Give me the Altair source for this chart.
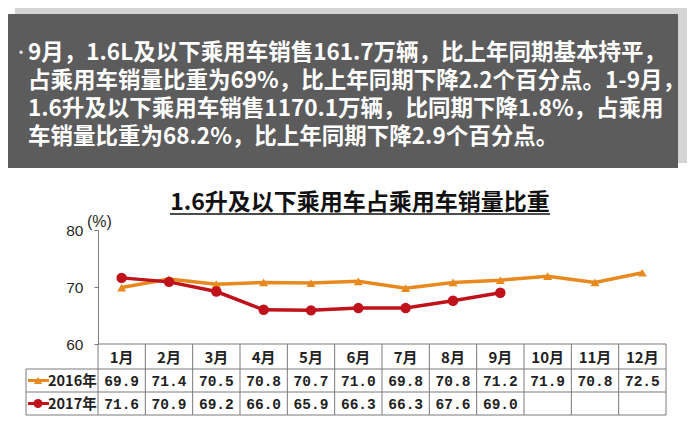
import altair as alt
import pandas as pd

# ---------------- data ----------------
months = ["1月", "2月", "3月", "4月", "5月", "6月", "7月", "8月", "9月", "10月", "11月", "12月"]
share_2016 = [69.9, 71.4, 70.5, 70.8, 70.7, 71.0, 69.8, 70.8, 71.2, 71.9, 70.8, 72.5]
share_2017 = [71.6, 70.9, 69.2, 66.0, 65.9, 66.3, 66.3, 67.6, 69.0]
series_names = ["2016年", "2017年"]
y_ticks = [60, 70, 80]
y_unit = "(%)"
chart_title = "1.6升及以下乘用车占乘用车销量比重"
banner_lines = [
    "9月，1.6L及以下乘用车销售161.7万辆，比上年同期基本持平，",
    "占乘用车销量比重为69%，比上年同期下降2.2个百分点。1-9月，",
    "1.6升及以下乘用车销售1170.1万辆，比同期下降1.8%，占乘用",
    "车销量比重为68.2%，比上年同期下降2.9个百分点。",
]

ORANGE = "#E8891F"
RED = "#C0121B"
GRID = "#7a7a7a"
CJK = "Noto Sans CJK SC"

one = pd.DataFrame({"a": [0]})

xs = alt.Scale(domain=[0, 12], range=[90, 658], nice=False, zero=False)
ys = alt.Scale(domain=[60, 80], range=[336, 222], nice=False, zero=False)
yaxis = alt.Axis(values=y_ticks, offset=-90, grid=False, domainColor=GRID,
                 tickColor=GRID, tickSize=4, labelPadding=11,
                 labelFont="Liberation Sans", labelFontSize=15.5,
                 labelColor="#2a2a2a", title=None)
X = alt.X("pos:Q", scale=xs, axis=None)
Y = alt.Y("v:Q", scale=ys, axis=yaxis)

df16 = pd.DataFrame({"pos": [i + 0.5 for i in range(len(share_2016))], "v": share_2016})
df17 = pd.DataFrame({"pos": [i + 0.5 for i in range(len(share_2017))], "v": share_2017})
dfm = pd.DataFrame({"pos": [i + 0.5 for i in range(len(months))], "m": months})

layers = []

# ---------------- banner ----------------
layers.append(alt.Chart(one).mark_rect(color="#d4d4d4").encode(
    x=alt.value(7), x2=alt.value(679), y=alt.value(-1), y2=alt.value(155)))
layers.append(alt.Chart(one).mark_rect(color="#5c5c5c").encode(
    x=alt.value(-2), x2=alt.value(670), y=alt.value(6), y2=alt.value(160)))
layers.append(alt.Chart(pd.DataFrame({"t": ["•"]})).mark_text(
    font=CJK, fontSize=16, color="#dddddd", align="left", baseline="middle").encode(
    x=alt.value(5), y=alt.value(45), text="t:N"))
layers.append(alt.Chart(pd.DataFrame({"t": ["\n".join(banner_lines)]})).mark_text(
    font=CJK, fontSize=22.5, fontWeight="bold", color="#ffffff",
    align="left", baseline="middle", lineBreak="\n", lineHeight=28).encode(
    x=alt.value(20), y=alt.value(45), text="t:N"))

# ---------------- title ----------------
layers.append(alt.Chart(pd.DataFrame({"t": [chart_title]})).mark_text(
    font=CJK, fontSize=23, fontWeight="bold", color="#111111",
    align="center", baseline="middle").encode(
    x=alt.value(352), y=alt.value(195), text="t:N"))
layers.append(alt.Chart(one).mark_rule(color="#111111", strokeWidth=1.5).encode(
    x=alt.value(162), x2=alt.value(542), y=alt.value(206)))

# unit label
layers.append(alt.Chart(pd.DataFrame({"t": [y_unit]})).mark_text(
    font="Liberation Sans", fontSize=16, color="#2a2a2a",
    align="left", baseline="middle").encode(
    x=alt.value(79), y=alt.value(214), text="t:N"))

# ---------------- lines ----------------
layers.append(alt.Chart(df16).mark_line(color=ORANGE, strokeWidth=3.5).encode(x=X, y=Y))
layers.append(alt.Chart(df16).mark_point(shape="triangle-up", filled=True, size=80,
                                         color=ORANGE, opacity=1).encode(x=X, y=Y))
layers.append(alt.Chart(df17).mark_line(color=RED, strokeWidth=3.5).encode(x=X, y=Y))
layers.append(alt.Chart(df17).mark_point(shape="circle", filled=True, size=110,
                                         color=RED, opacity=1).encode(x=X, y=Y))

# ---------------- table ----------------
TOP, R1, R2, BOT = 336, 361, 384, 407
LEFT = 18
layers.append(alt.Chart(pd.DataFrame({"pos": list(range(13))})).mark_rule(
    color=GRID, strokeWidth=1).encode(x=X, y=alt.value(TOP), y2=alt.value(BOT)))
layers.append(alt.Chart(one).mark_rule(color=GRID, strokeWidth=1).encode(
    x=alt.value(90), x2=alt.value(658), y=alt.value(TOP)))
for yy in (R1, R2, BOT):
    layers.append(alt.Chart(one).mark_rule(color=GRID, strokeWidth=1).encode(
        x=alt.value(LEFT), x2=alt.value(658), y=alt.value(yy)))
layers.append(alt.Chart(one).mark_rule(color=GRID, strokeWidth=1).encode(
    x=alt.value(LEFT), y=alt.value(R1), y2=alt.value(BOT)))

cy = [(TOP + R1) / 2, (R1 + R2) / 2, (R2 + BOT) / 2]
layers.append(alt.Chart(dfm).mark_text(font=CJK, fontSize=15, fontWeight="bold",
                                       color="#222222", baseline="middle").encode(
    x=X, y=alt.value(cy[0] + 1), text="m:N"))
layers.append(alt.Chart(df16).mark_text(font="Liberation Mono", fontSize=14.5, fontWeight="bold",
                                        color="#222222", baseline="middle").encode(
    x=X, y=alt.value(cy[1] + 1), text=alt.Text("v:Q", format=".1f")))
layers.append(alt.Chart(df17).mark_text(font="Liberation Mono", fontSize=14.5, fontWeight="bold",
                                        color="#222222", baseline="middle").encode(
    x=X, y=alt.value(cy[2] + 1), text=alt.Text("v:Q", format=".1f")))

# legend inside table
for name, col, shape, sz, yy in [(series_names[0], ORANGE, "triangle-up", 70, cy[1]),
                                  (series_names[1], RED, "circle", 80, cy[2])]:
    layers.append(alt.Chart(one).mark_rule(color=col, strokeWidth=3).encode(
        x=alt.value(LEFT + 2), x2=alt.value(41), y=alt.value(yy)))
    layers.append(alt.Chart(one).mark_point(shape=shape, filled=True, size=sz,
                                            color=col, opacity=1).encode(
        x=alt.value(30), y=alt.value(yy)))
    layers.append(alt.Chart(pd.DataFrame({"t": [name]})).mark_text(
        font=CJK, fontSize=14.5, fontWeight="bold", color="#222222",
        align="left", baseline="middle").encode(
        x=alt.value(40), y=alt.value(yy + 1), text="t:N"))

chart = alt.layer(*layers).properties(
    width=684, height=408, autosize="none", padding=0, background="white"
).configure_view(strokeWidth=0)

chart.save("out.html", embed_options={"renderer": "svg", "actions": False})
